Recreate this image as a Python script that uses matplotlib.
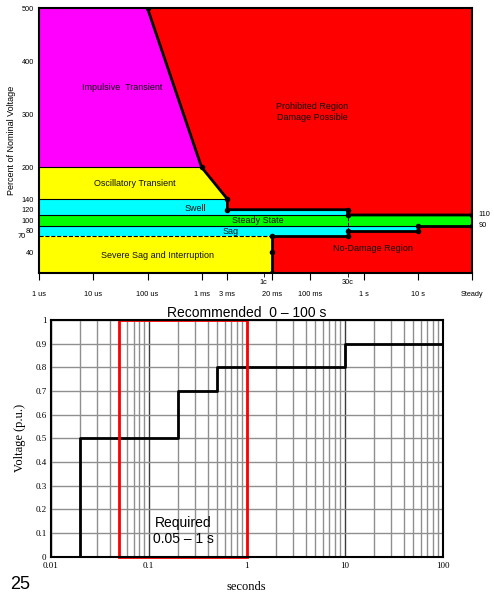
import matplotlib
matplotlib.use('Agg')
import matplotlib.pyplot as plt
from matplotlib.patches import Rectangle

# ---------------- ITIC style curve (top) ----------------
# upper (prohibited) boundary: time in s, percent
upper_t = [1e-4, 1e-3, 3e-3, 3e-3, 0.5, 0.5, 100]
upper_v = [500, 200, 140, 120, 120, 110, 110]
# lower (no-damage) boundary
lower_t = [0.02, 0.02, 0.02, 0.5, 0.5, 10, 10, 100]
lower_v = [0, 40, 70, 70, 80, 80, 90, 90]

t_min, t_max = 1e-6, 100
band_levels = [0, 70, 90, 110, 140, 200, 500]   # severe sag / sag / steady / swell / osc / impulsive

top_xticks = [1e-6, 1e-5, 1e-4, 1e-3, 3e-3, 0.02, 0.1, 1, 10, 100]
top_xlabels = ['1 us', '10 us', '100 us', '1 ms', '3 ms', '20 ms', '100 ms', '1 s', '10 s', 'Steady']
cycle_ticks = [0.014, 0.5]
cycle_labels = ['1c', '30c']
top_yticks = [40, 80, 100, 120, 140, 200, 300, 400, 500]

# ---------------- ride-through curve (bottom) ----------------
step_t = [0.01, 0.02, 0.2, 0.5, 10, 100]
step_v = [0, 0.5, 0.7, 0.8, 0.9, 0.9]
req_start, req_end = 0.05, 1

RED, MAG, YEL, CYA, GRN = '#ff0000', '#ff00ff', '#ffff00', '#00ffff', '#00ff00'
sans = ['Liberation Sans', 'DejaVu Sans']
serif = ['Liberation Serif', 'DejaVu Serif']
plt.rcParams['font.family'] = sans

fig = plt.figure(figsize=(4.94, 6.03), dpi=100)
ax = fig.add_axes([0.0796, 0.5468, 0.876, 0.4394])
ax.set_xscale('log')
ax.set_xlim(t_min, t_max)
ax.set_ylim(0, 500)

# regions
ax.fill([t_min, t_max, t_max, t_min], [0, 0, 500, 500], color=RED, lw=0)
# impulsive
ax.fill([t_min, t_min, upper_t[0], upper_t[1]],
        [band_levels[5], band_levels[6], upper_v[0], upper_v[1]], color=MAG, lw=0)
# oscillatory
ax.fill([t_min, t_min, upper_t[1], upper_t[2]],
        [band_levels[4], band_levels[5], upper_v[1], upper_v[2]], color=YEL, lw=0)
# swell
ax.fill([t_min, t_min] + upper_t[2:6],
        [band_levels[3], band_levels[4]] + upper_v[2:6], color=CYA, lw=0)
# steady state
ax.fill([t_min, t_max, t_max, t_min],
        [band_levels[2], band_levels[2], band_levels[3], band_levels[3]], color=GRN, lw=0)
# sag
ax.fill([t_min] + lower_t[2:7] + [t_min],
        [band_levels[1]] + lower_v[2:7] + [band_levels[2]], color=CYA, lw=0)
# severe sag
ax.fill([t_min, lower_t[0], lower_t[2], t_min],
        [band_levels[0], lower_v[0], lower_v[2], band_levels[1]], color=YEL, lw=0)

# thin band separators
ax.plot([t_min, upper_t[1]], [band_levels[5]] * 2, 'k-', lw=0.8)
ax.plot([t_min, upper_t[2]], [band_levels[4]] * 2, 'k-', lw=0.8)
ax.plot([t_min, upper_t[4]], [band_levels[3]] * 2, 'k-', lw=0.8)
ax.plot([t_min, lower_t[5]], [band_levels[2]] * 2, 'k-', lw=0.8)
ax.plot([t_min, lower_t[0]], [band_levels[1]] * 2, 'k--', lw=0.8)
ax.plot([upper_t[4]] * 2, [lower_v[4], upper_v[5]], 'k--', lw=0.7)

# boundaries
ax.plot(upper_t, upper_v, 'k-', lw=2, marker='o', ms=3)
ax.plot(lower_t, lower_v, 'k-', lw=2, marker='o', ms=3)

lab = dict(fontsize=6.5, ha='center', va='center', color='#111111')
ax.text(3.4e-5, 350, 'Impulsive  Transient', **lab)
ax.text(5.9e-5, 170, 'Oscillatory Transient', **lab)
ax.text(7.8e-4, 123, 'Swell', **lab)
ax.text(0.011, 99, 'Steady State', **lab)
ax.text(3.5e-3, 78, 'Sag', **lab)
ax.text(1.55e-4, 33, 'Severe Sag and Interruption', **lab)
ax.text(0.11, 304, 'Prohibited Region\nDamage Possible', **lab)
ax.text(1.5, 46, 'No-Damage Region', **lab)

ax.set_xticks(top_xticks)
ax.set_xticklabels(top_xlabels)
ax.set_xticks(cycle_ticks, minor=True)
ax.set_xticklabels(cycle_labels, minor=True)
ax.tick_params(axis='x', which='major', direction='out', length=5, pad=8, labelsize=5.3)
ax.tick_params(axis='x', which='minor', direction='out', length=3, pad=1, labelsize=5.3)
ax.set_yticks(top_yticks)
ax.set_yticklabels([str(v) for v in top_yticks])
ax.tick_params(axis='y', length=0, pad=4, labelsize=5.3)
ax.text(-0.032, band_levels[1], '70', transform=ax.get_yaxis_transform(),
        fontsize=5.3, ha='right', va='center')
ax.text(1.015, band_levels[3], '110', transform=ax.get_yaxis_transform(),
        fontsize=5.3, ha='left', va='center')
ax.text(1.015, band_levels[2], '90', transform=ax.get_yaxis_transform(),
        fontsize=5.3, ha='left', va='center')
ax.set_ylabel('Percent of Nominal Voltage', fontsize=6.5, labelpad=4)
for s in ax.spines.values():
    s.set_linewidth(1.5)

# ---------------- bottom chart ----------------
ax2 = fig.add_axes([0.1026, 0.0768, 0.7935, 0.3925])
ax2.set_xscale('log')
ax2.set_xlim(0.01, 100)
ax2.set_ylim(0, 1)
ax2.grid(True, which='minor', axis='x', color='#8f8f8f', lw=1)
ax2.grid(True, which='major', axis='x', color='#3a3a3a', lw=1)
ax2.grid(True, which='major', axis='y', color='#8f8f8f', lw=1)
ax2.set_axisbelow(True)

ax2.step(step_t, step_v, where='post', color='black', lw=2, zorder=3)
ax2.add_patch(Rectangle((req_start, 0), req_end - req_start, 1, fill=False,
                        edgecolor='red', lw=2, zorder=4, clip_on=False))
ax2.text(0.224, 0.11, 'Required\n0.05 \u2013 1 s', fontsize=10, ha='center', va='center',
         family=sans, zorder=5)

ax2.set_yticks([i / 10 for i in range(11)])
ax2.set_yticklabels(['0'] + ['0.%d' % i for i in range(1, 10)] + ['1'])
ax2.set_xticks([0.01, 0.1, 1, 10, 100])
ax2.set_xticklabels(['0.01', '0.1', '1', '10', '100'])
ax2.tick_params(which='both', length=0, labelsize=6.5)
ax2.tick_params(axis='x', pad=4)
ax2.tick_params(axis='y', pad=3)
for t in ax2.get_xticklabels() + ax2.get_yticklabels():
    t.set_family(serif)
ax2.set_title('Recommended  0 \u2013 100 s', fontsize=10, pad=2)
ax2.set_xlabel('seconds', family=serif, fontsize=9, labelpad=8)
ax2.set_ylabel('Voltage (p.u.)', family=serif, fontsize=9, labelpad=7)
for s in ax2.spines.values():
    s.set_linewidth(1.5)
    s.set_zorder(6)

fig.text(0.04, 0.03, '25', fontsize=13, ha='center', va='center')

fig.savefig('out.png', dpi=100)
